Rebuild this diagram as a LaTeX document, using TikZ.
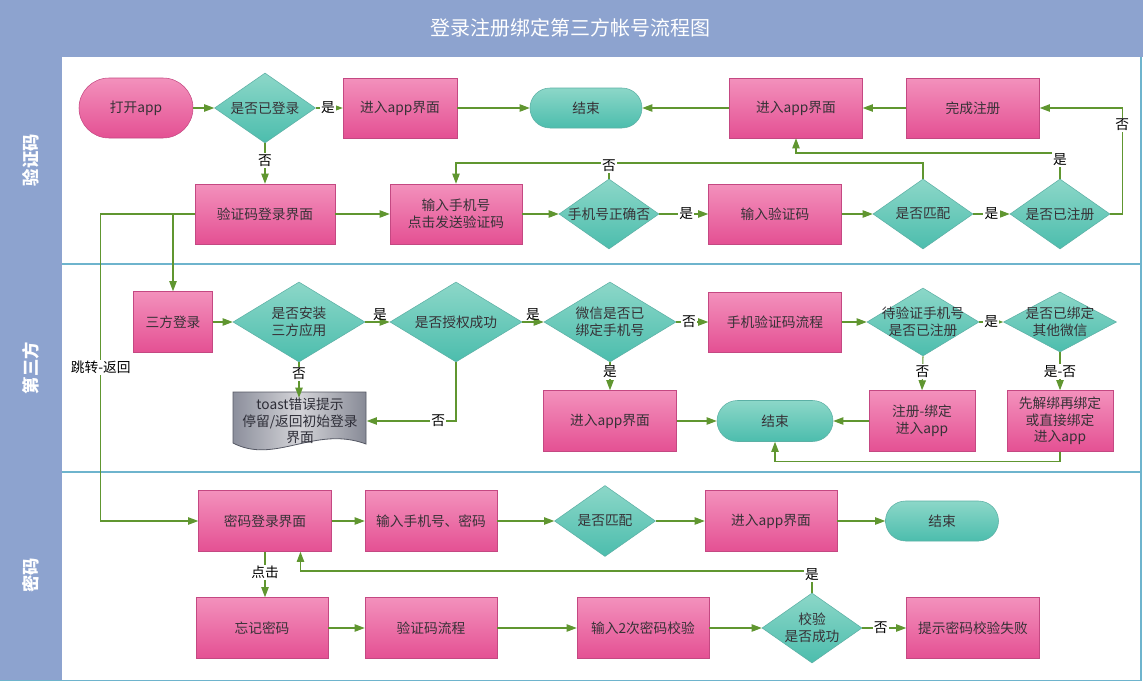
\documentclass[tikz,border=0pt]{standalone}
\usepackage{fontspec}
\setmainfont{Noto Sans CJK SC}
\usetikzlibrary{shapes.geometric,shapes.misc,arrows.meta}
\definecolor{hdr}{RGB}{141,163,207}
\definecolor{laneline}{RGB}{110,180,205}
\definecolor{pinkt}{RGB}{243,145,188}
\definecolor{pinkb}{RGB}{228,80,147}
\definecolor{pinkd}{RGB}{196,72,130}
\definecolor{tealt}{RGB}{140,215,200}
\definecolor{tealb}{RGB}{76,189,173}
\definecolor{teald}{RGB}{92,176,165}
\definecolor{grn}{RGB}{96,150,48}
\definecolor{txtc}{RGB}{55,50,55}
\definecolor{docd}{RGB}{85,88,100}
\newcommand\nodefont{\fontsize{10.3}{12.5}\selectfont}
\begin{document}
\begin{tikzpicture}[x=0.75pt,y=-0.75pt,
  pbox/.style 2 args={rectangle, draw=pinkd, top color=pinkt, bottom color=pinkb,
    minimum width=#1*0.75pt, minimum height=#2*0.75pt, inner sep=0pt, align=center,
    font=\nodefont, text=txtc},
  pstad/.style 2 args={rounded rectangle, draw=pinkd, top color=pinkt, bottom color=pinkb,
    minimum width=#1*0.75pt, minimum height=#2*0.75pt, inner sep=0pt, align=center,
    font=\nodefont, text=txtc},
  tstad/.style 2 args={rounded rectangle, draw=teald, top color=tealt, bottom color=tealb,
    minimum width=#1*0.75pt, minimum height=#2*0.75pt, inner sep=0pt, align=center,
    font=\nodefont, text=txtc},
  dia/.style 2 args={diamond, draw=teald, top color=tealt, bottom color=tealb,
    minimum width=#1*0.75pt, minimum height=#2*0.75pt, inner sep=0pt},
  txt/.style={font=\nodefont, align=center, text=txtc, inner sep=0pt},
  lbl/.style={fill=white, inner sep=1pt, font=\nodefont, text=black},
  abv/.style={inner sep=1pt, font=\nodefont, text=black, above},
  conn/.style={draw=grn, line width=0.8pt},
  arr/.style={conn, -{Triangle[length=7.5pt,width=5.5pt]}},
  lanelbl/.style={rotate=90, font=\bfseries\fontsize{13}{15}\selectfont, text=white}
]
\useasboundingbox (0,0) rectangle (1143,682);
% background
\fill[white] (0,0) rectangle (1143,682);
\fill[hdr] (0,0) rectangle (1143,57);
\fill[hdr] (0,57) rectangle (62,681);
\draw[laneline, line width=1pt] (62,264) -- (1141,264);
\draw[laneline, line width=1pt] (62,472) -- (1141,472);
\draw[laneline, line width=1.2pt] (1141,57) -- (1141,680.5) -- (0,680.5);
\node[font=\fontsize{15}{17}\selectfont, text=white] (title) at (570,28) {登录注册绑定第三方帐号流程图};
\node[lanelbl] (lane1) at (31,160) {验证码};
\node[lanelbl] (lane2) at (31,368) {第三方};
\node[lanelbl] (lane3) at (31,575) {密码};

% ---------- lane 1 ----------
\node[pstad={114}{60}] (open) at (136,108) {打开app};
\node[dia={101}{70}] (q1) at (265,108) {};
\node[txt] (q1t) at (q1) {是否已登录};
\node[pbox={114}{60}] (app1) at (400,108) {进入app界面};
\node[tstad={112}{40}] (end1) at (586,108) {结束};
\node[pbox={133}{60}] (app2) at (796,108) {进入app界面};
\node[pbox={133}{60}] (reg) at (973,108) {完成注册};
\node[pbox={140}{60}] (vlogin) at (265,214) {验证码登录界面};
\node[pbox={132}{60}] (phone) at (456,214) {输入手机号\\点击发送验证码};
\node[dia={100}{70}] (q2) at (609,214) {};
\node[txt] (q2t) at (q2) {手机号正确否};
\node[pbox={133}{60}] (code) at (775,214) {输入验证码};
\node[dia={100}{70}] (q3) at (923,214) {};
\node[txt] (q3t) at (q3) {是否匹配};
\node[dia={100}{70}] (q4) at (1060,214) {};
\node[txt] (q4t) at (q4) {是否已注册};

\draw[arr] (open.east) -- (q1.west);
\draw[arr] (q1.east) -- node[lbl,pos=0.45] (l1) {是} (app1.west);
\draw[arr] (q1.south) -- node[lbl,pos=0.42] (l2) {否} (vlogin.north);
\draw[arr] (app1.east) -- (end1.west);
\draw[arr] (app2.west) -- (end1.east);
\draw[arr] (reg.west) -- (app2.east);
\draw[arr] (q4.east) -- ++(12,0) |- node[lbl,pos=0.42] (l3) {否} (reg.east);
\draw[arr] (q4.north) -- node[lbl,pos=0.75] (l4) {是} (q4.north |- 0,153) -| (app2.south);
\draw[conn] (q3.north) |- (phone.north |- 0,163);
\draw[arr] (q2.north) -- node[lbl,pos=0.85] (l5) {否} (q2.north |- 0,163) -| (phone.north);
\draw[arr] (vlogin.east) -- (phone.west);
\draw[arr] (phone.east) -- (q2.west);
\draw[arr] (q2.east) -- node[lbl,pos=0.55] (l6) {是} (code.west);
\draw[arr] (code.east) -- (q3.west);
\draw[arr] (q3.east) -- node[lbl,pos=0.5] (l7) {是} (q4.west);

% ---------- lane 2 ----------
\node[pbox={79}{61}] (third) at (173,322) {三方登录};
\node[dia={132}{80}] (q5) at (299,322) {};
\node[txt] (q5t) at (q5) {是否安装\\三方应用};
\node[dia={132}{80}] (q6) at (456,322) {};
\node[txt] (q6t) at (q6) {是否授权成功};
\node[dia={132}{80}] (q7) at (610,322) {};
\node[txt] (q7t) at (q7) {微信是否已\\绑定手机号};
\node[pbox={133}{60}] (mflow) at (775,322) {手机验证码流程};
\node[dia={112}{68}] (q8) at (923,322) {};
\node[txt] (q8t) at (q8) {待验证手机号\\是否已注册};
\node[dia={113}{60}] (q9) at (1060,322) {};
\node[txt] (q9t) at (q9) {是否已绑定\\其他微信};
\node[pbox={133}{61}] (app3) at (610,421) {进入app界面};
\node[tstad={116}{41}] (end2) at (775,421) {结束};
\node[pbox={106}{61}] (regbind) at (922,421) {注册-绑定\\进入app};
\node[pbox={106}{61}] (unbind) at (1060,421) {先解绑再绑定\\或直接绑定\\进入app};
% toast document shape
\draw[docd, line width=0.6pt, left color={rgb,255:red,140;green,143;blue,156}, right color={rgb,255:red,135;green,138;blue,150}, middle color={rgb,255:red,212;green,212;blue,216}]
  (233,392) -- (366,392) -- (366,444) .. controls (315,425) and (275,465) .. (233,443) -- cycle;
\node[txt, minimum width=133*0.75pt, text={rgb,255:red,45;green,45;blue,55}] (toast) at (300,421) {toast错误提示\\停留/返回初始登录\\界面};

\draw[arr] (vlogin.west -| third.north) -- (third.north);
\draw[arr] (third.east) -- (q5.west);
\draw[arr] (q5.east) -- node[abv,pos=0.6] (l9) {是} (q6.west);
\draw[arr] (q6.east) -- node[abv,pos=0.5] (l10) {是} (q7.west);
\draw[arr] (q5.south) -- node[lbl,pos=0.33] (l11) {否} (toast.north -| q5.south);
\draw[arr] (q6.south) |- node[lbl,pos=0.6] (l12) {否} (toast.east);
\draw[arr] (q7.east) -- node[lbl,pos=0.4] (l13) {否} (mflow.west);
\draw[arr] (q7.south) -- node[lbl,pos=0.35] (l14) {是} (app3.north);
\draw[arr] (mflow.east) -- (q8.west);
\draw[arr] (q8.east) -- node[lbl,pos=0.5] (l15) {是} (q9.west);
\draw[arr] (q8.south) -- node[lbl,pos=0.45] (l16) {否} (regbind.north);
\draw[arr] (q9.south) -- node[lbl,pos=0.5] (l17) {是-否} (unbind.north);
\draw[arr] (app3.east) -- (end2.west);
\draw[arr] (regbind.west) -- (end2.east);
\draw[arr] (unbind.south) -- ++(0,10) -| (end2.south);

% ---------- lane 3 ----------
\node[pbox={133}{61}] (plogin) at (265,521) {密码登录界面};
\node[pbox={132}{61}] (pinput) at (431,521) {输入手机号、密码};
\node[dia={101}{71}] (q10) at (605,521) {};
\node[txt] (q10t) at (q10) {是否匹配};
\node[pbox={132}{61}] (app4) at (771,521) {进入app界面};
\node[tstad={113}{40}] (end3) at (942,521) {结束};
\node[pbox={132}{61}] (forgot) at (262,628) {忘记密码};
\node[pbox={132}{61}] (vflow) at (431,628) {验证码流程};
\node[pbox={132}{61}] (twice) at (643,628) {输入2次密码校验};
\node[dia={100}{70}] (q11) at (812,628) {};
\node[txt] (q11t) at (q11) {校验\\是否成功};
\node[pbox={133}{61}] (fail) at (973,628) {提示密码校验失败};

\draw[arr] (vlogin.west) -- ++(-94,0) |- node[lbl,pos=0.25] (l8) {跳转-返回} (plogin.west);
\draw[arr] (plogin.east) -- (pinput.west);
\draw[arr] (pinput.east) -- (q10.west);
\draw[arr] (q10.east) -- (app4.west);
\draw[arr] (app4.east) -- (end3.west);
\draw[arr] (plogin.south) -- node[lbl,pos=0.45] (l18) {点击} (plogin.south |- forgot.north);
\draw[arr] (forgot.east) -- (vflow.west);
\draw[arr] (vflow.east) -- (twice.west);
\draw[arr] (twice.east) -- (q11.west);
\draw[arr] (q11.east) -- node[lbl,pos=0.42] (l19) {否} (fail.west);
\draw[arr] (q11.north) -- node[lbl,pos=0.85] (l20) {是} (q11.north |- 0,571) -| ([xshift=26.6pt]plogin.south);
\end{tikzpicture}
\end{document}
